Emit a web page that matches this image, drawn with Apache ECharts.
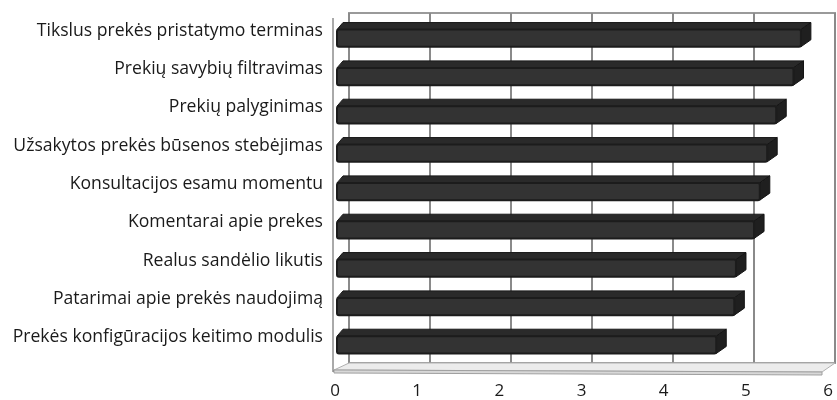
<!DOCTYPE html>
<html>
<head>
<meta charset="utf-8">
<script src="https://cdn.jsdelivr.net/npm/echarts@6/dist/echarts.min.js"></script>
<style>
  html, body { margin: 0; padding: 0; background: #fff; }
  #main { width: 837px; height: 400px; }
</style>
</head>
<body>
<div id="main"></div>
<script>
// categories top to bottom
var categories = [
    'Tikslus prekės pristatymo terminas',
    'Prekių savybių filtravimas',
    'Prekių palyginimas',
    'Užsakytos prekės būsenos stebėjimas',
    'Konsultacijos esamu momentu',
    'Komentarai apie prekes',
    'Realus sandėlio likutis',
    'Patarimai apie prekės naudojimą',
    'Prekės konfigūracijos keitimo modulis'
];
var values = [5.67, 5.58, 5.37, 5.26, 5.17, 5.1, 4.88, 4.86, 4.64];
var xTicks = [0, 1, 2, 3, 4, 5, 6];

var myChart = echarts.init(document.getElementById('main'));

var depthX = 10, depthY = 7;

function renderBar(params, api) {
    var idx = api.value(0);
    var val = api.value(1);
    var start = api.coord([0, idx]);
    var end = api.coord([val, idx]);
    var band = api.size([0, 1])[1];
    var h = band * 0.45;
    var x0 = start[0] + 2, x1 = end[0];
    var yt = start[1] - h / 2 + 1, yb = start[1] + h / 2 + 1;
    return {
        type: 'group',
        children: [
            { // top face
                type: 'polygon',
                shape: { points: [[x0, yt], [x1, yt], [x1 + depthX, yt - depthY], [x0 + depthX - 4, yt - depthY]] },
                style: { fill: '#2a2a2a', stroke: '#1a1a1a', lineWidth: 1 }
            },
            { // side face
                type: 'polygon',
                shape: { points: [[x1, yt], [x1 + depthX, yt - depthY], [x1 + depthX, yb - depthY], [x1, yb]] },
                style: { fill: '#1f1f1f', stroke: '#141414', lineWidth: 1 }
            },
            { // front face
                type: 'rect',
                shape: { x: x0, y: yt, width: x1 - x0, height: yb - yt, r: 2 },
                style: { fill: '#333333', stroke: '#1c1c1c', lineWidth: 2 }
            }
        ]
    };
}

var barData = values.map(function (v, i) { return [i, v]; });

var option = {
    animation: false,
    textStyle: { fontFamily: 'Open Sans' },
    grid: [
        // back wall
        { left: 349, right: 2, top: 13, bottom: 37, show: true, borderColor: '#9a9a9a', borderWidth: 2 },
        // front plane
        { left: 335, right: 9, top: 18, bottom: 31 }
    ],
    xAxis: [
        {
            gridIndex: 0, type: 'value', min: 0, max: 6, interval: 1,
            axisLine: { show: false }, axisTick: { show: false }, axisLabel: { show: false },
            splitLine: { show: true, lineStyle: { color: '#8a8a8a', width: 2 } }
        },
        {
            gridIndex: 1, type: 'value', min: xTicks[0], max: xTicks[xTicks.length - 1], interval: 1,
            axisLine: { show: false }, axisTick: { show: false }, splitLine: { show: false },
            axisLabel: { color: '#1a1a1a', fontSize: 17, margin: 20 }
        }
    ],
    yAxis: [
        {
            gridIndex: 0, type: 'value', show: false
        },
        {
            gridIndex: 1, type: 'category', data: categories, inverse: true,
            axisLine: { show: false }, axisTick: { show: false },
            axisLabel: { color: '#1a1a1a', fontSize: 17.6, margin: 12, verticalAlign: 'bottom', lineHeight: 13 }
        }
    ],
    graphic: [
        { // floor top
            type: 'polygon', z: 1,
            shape: { points: [[349, 363], [835, 363], [822, 372], [334, 370]] },
            style: { fill: '#ececec', stroke: '#b0b0b0', lineWidth: 1 }
        },
        { // floor front edge
            type: 'polygon', z: 1,
            shape: { points: [[334, 370], [822, 372], [822, 375], [334, 373]] },
            style: { fill: '#d8d8d8', stroke: '#a0a0a0', lineWidth: 1 }
        },
        { // left wall edge
            type: 'line', z: 1,
            shape: { x1: 333, y1: 18, x2: 333, y2: 372 },
            style: { stroke: '#555', lineWidth: 1 }
        }
    ],
    series: [{
        type: 'custom',
        xAxisIndex: 1,
        yAxisIndex: 1,
        z: 5,
        renderItem: renderBar,
        encode: { x: 1, y: 0 },
        data: barData
    }]
};

myChart.setOption(option);
</script>
</body>
</html>
